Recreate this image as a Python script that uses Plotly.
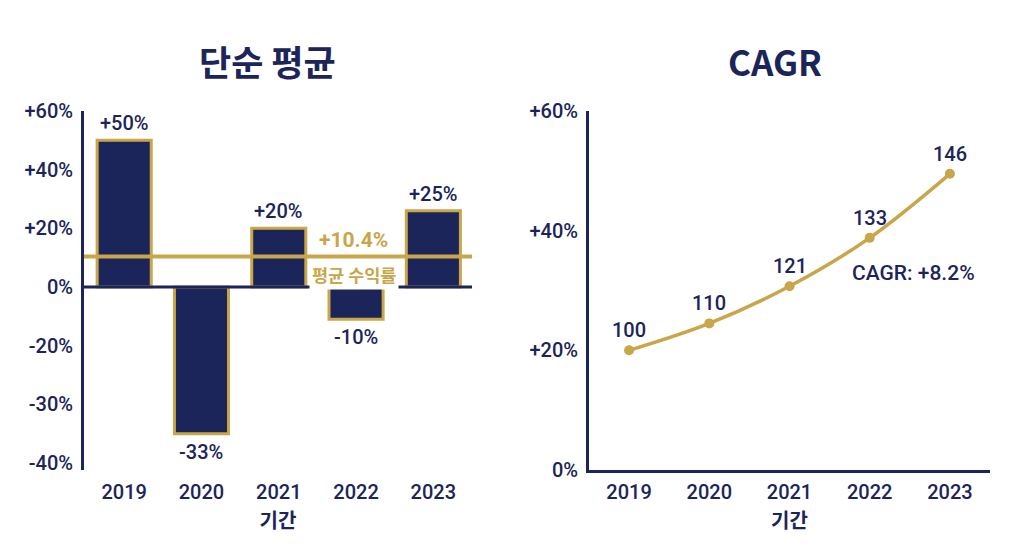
import plotly.graph_objects as go
from plotly.subplots import make_subplots

# ---- data ----
years = ["2019", "2020", "2021", "2022", "2023"]
return_labels = ["+50%", "-33%", "+20%", "-10%", "+25%"]
bar_heights = [50, -50, 20, -11, 26]          # as drawn on the left axis
avg_return = 10.4
left_tick_vals = [60, 40, 20, 0, -20, -40, -60]
left_tick_text = ["+60%", "+40%", "+20%", "0%", "-20%", "-30%", "-40%"]

index_labels = [100, 110, 121, 133, 146]
index_pos = [20, 24.5, 30.7, 38.8, 49.5]      # as drawn on the right axis
right_tick_vals = [0, 20, 40, 60]
right_tick_text = ["0%", "+20%", "+40%", "+60%"]
cagr_text = "CAGR: +8.2%"

NAVY = "#1c2559"
GOLD = "#c9a64a"
FONT = "Roboto, 'Noto Sans CJK KR', sans-serif"
KFONT = "'Noto Sans CJK KR', Roboto, sans-serif"
WT = 500

W, H = 1024, 559
def px_x(p): return p / W
def px_y(p): return 1 - p / H

fig = make_subplots(rows=1, cols=2)

fig.add_trace(go.Bar(
    x=years, y=bar_heights, width=0.7,
    marker=dict(color=NAVY, line=dict(color=GOLD, width=3)),
    hoverinfo="skip", showlegend=False), row=1, col=1)

fig.add_trace(go.Scatter(
    x=years, y=index_pos, mode="lines+markers",
    line=dict(color=GOLD, width=3.5, shape="spline"),
    marker=dict(color=GOLD, size=10),
    hoverinfo="skip", showlegend=False), row=1, col=2)

fig.update_layout(
    width=W, height=H,
    margin=dict(l=0, r=0, t=0, b=0),
    paper_bgcolor="white", plot_bgcolor="white",
    font=dict(family=FONT, color=NAVY),
)

tickf = dict(size=20, family=FONT, color=NAVY, weight=WT)
titlef = dict(size=20, family=KFONT, color=NAVY, weight="bold")
ydom = [px_y(470), px_y(111)]
fig.update_xaxes(row=1, col=1, domain=[px_x(84), px_x(472)], range=[-0.52, 4.5],
                 type="category", automargin=False,
                 showline=True, linecolor="rgba(0,0,0,0)", linewidth=3,
                 showgrid=False, ticks="", ticklabelstandoff=2,
                 tickfont=tickf, title=dict(text="기간", font=titlef, standoff=11))
fig.update_yaxes(row=1, col=1, domain=ydom, range=[-62.4, 60], automargin=False,
                 tickvals=left_tick_vals, ticktext=left_tick_text,
                 showline=True, linecolor=NAVY, linewidth=3, showgrid=False, zeroline=False,
                 ticks="", ticklabelstandoff=4, tickfont=tickf)
fig.update_xaxes(row=1, col=2, domain=[px_x(589), px_x(990)], range=[-0.5, 4.5],
                 type="category", automargin=False,
                 showline=True, linecolor=NAVY, linewidth=3, showgrid=False, ticks="",
                 ticklabelstandoff=2, tickfont=tickf,
                 title=dict(text="기간", font=titlef, standoff=11))
fig.update_yaxes(row=1, col=2, domain=ydom, range=[0, 60], automargin=False,
                 tickvals=right_tick_vals, ticktext=right_tick_text,
                 showline=True, linecolor=NAVY, linewidth=3, showgrid=False, zeroline=False,
                 ticks="", ticklabelstandoff=4, tickfont=tickf)

# zero line and average line (left)
fig.add_shape(type="line", xref="x domain", yref="y", x0=0, x1=1, y0=0, y1=0,
              line=dict(color=NAVY, width=3), layer="above")
fig.add_shape(type="line", xref="x domain", yref="y", x0=0, x1=1, y0=avg_return, y1=avg_return,
              line=dict(color=GOLD, width=4), layer="above")

# bar labels
for i, (h, lab) in enumerate(zip(bar_heights, return_labels)):
    fig.add_annotation(x=i, y=h, xref="x", yref="y", text=lab, showarrow=False,
                       yanchor="bottom" if h >= 0 else "top",
                       yshift=3 if h >= 0 else -4,
                       font=dict(size=20, family=FONT, color=NAVY, weight=WT))

# average labels
fig.add_annotation(x=2.97, y=avg_return, xref="x", yref="y", text=f"+{avg_return}%",
                   showarrow=False, yanchor="bottom", yshift=2,
                   font=dict(size=21, family=FONT, color=GOLD, weight="bold"))
fig.add_annotation(x=2.97, y=avg_return, xref="x", yref="y", text="평균 수익률",
                   showarrow=False, yanchor="top", yshift=-3, bgcolor="white",
                   borderpad=2,
                   font=dict(size=17.5, family=KFONT, color=GOLD, weight="bold"))

# line labels
for i, (p, lab) in enumerate(zip(index_pos, index_labels)):
    fig.add_annotation(x=i, y=p, xref="x2", yref="y2", text=str(lab), showarrow=False,
                       yanchor="bottom", yshift=6,
                       font=dict(size=20, family=FONT, color=NAVY, weight=WT))
fig.add_annotation(x=3.54, y=32.9, xref="x2", yref="y2", text=cagr_text, showarrow=False,
                   font=dict(size=21, family=FONT, color=NAVY, weight=WT))

# titles
fig.add_annotation(x=px_x(267), y=px_y(60), xref="paper", yref="paper", text="단순 평균",
                   xanchor="center", yanchor="middle",
                   showarrow=False, font=dict(size=35, family=KFONT, color=NAVY, weight="bold"))
fig.add_annotation(x=px_x(775), y=px_y(60), xref="paper", yref="paper", text="CAGR",
                   xanchor="center", yanchor="middle",
                   showarrow=False, font=dict(size=35, family=KFONT, color=NAVY, weight="bold"))

fig.write_html("out.html")
